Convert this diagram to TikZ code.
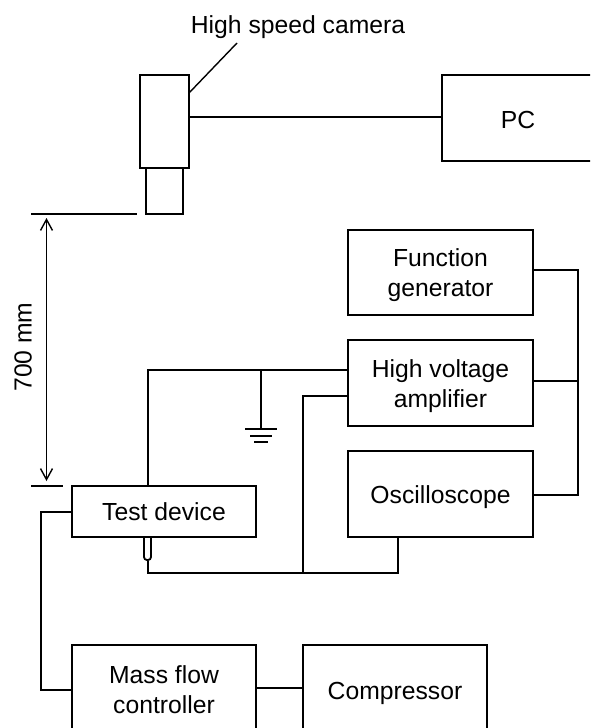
\documentclass[tikz,border=0pt]{standalone}
\usepackage{fontspec}
\setmainfont{Liberation Sans}
\usetikzlibrary{positioning,arrows.meta}
\newcommand{\pushed}[1]{\rule{0pt}{#1}}
\tikzset{unit/.style={rectangle,draw,fill=white,line width=2pt,align=center,inner sep=0pt,outer sep=0pt,
		minimum width=185pt,minimum height=86pt,font=\fontsize{24.7}{30}\selectfont},
	 wire/.style={line width=2pt},
	 thin wire/.style={line width=1.4pt},
	 probe/.style={rectangle,draw,rounded corners=3pt,line width=1.8pt,minimum width=7pt,minimum height=28pt,inner sep=0pt},
	 node distance = 25pt
	 }

\begin{document}
\begin{tikzpicture}[x=1pt,y=1pt]
	\path[use as bounding box,clip] (0,0) rectangle (590,-728);
	% camera and pc
	\node[unit,minimum width=49pt,minimum height=93pt] (cam) at (164.5,-121.5) {};
	\node[unit,minimum width=37pt,minimum height=46pt] (lens) [below=0pt of cam] {};
	\node[unit,minimum width=152pt] (pc) at (518,-118) {\pushed{22pt}PC};
	\node[font=\fontsize{24.7}{30}\selectfont] (camlabel) at (298,-27) {High speed camera};
	\coordinate (lead) at (237,-43);
	\draw[wire] (cam.east) ++(0,4.5) coordinate (camout) -- (camout -| pc.west);
	\draw[thin wire] (lead) -- (cam.east |- 0,-93);
	% signal units
	\node[unit,minimum height=85pt] (fg) at (440.5,-272) {\pushed{25pt}Function\\generator};
	\node[unit] (hv) [below=of fg] {\pushed{25pt}High voltage\\amplifier};
	\node[unit] (osc) [below=of hv] {\pushed{26pt}Oscilloscope};
	\coordinate (rbus) at (578,-270);
	\draw[wire] (fg.east |- rbus) -- (rbus) |- (osc.east |- 0,-495);
	\draw[wire] (hv.east |- 0,-381) -- (rbus |- 0,-381);
	% test device and probe
	\node[probe] (pr) at (147.5,-546) {};
	\node[unit,minimum width=184pt,minimum height=51pt] (td) at (164,-511.5) {Test device};
	\coordinate (bus) at (147.5,-573);
	\draw[wire] (pr.south) -- (bus) -| (osc.south -| 398,0);
	\draw[wire] (td.north -| bus) |- (hv.west |- 0,-370);
	\draw[wire] (hv.west |- 0,-396) -| (303,-573);
	% ground
	\coordinate (gnd) at (261,-429);
	\draw[wire] (gnd |- 0,-370) -- (gnd);
	\draw[wire] (245,-429) -- (277,-429);
	\draw[wire] (250,-436) -- (272,-436);
	\draw[wire] (254,-441.5) -- (268,-441.5);
	% gas supply
	\node[unit,minimum width=184pt,minimum height=90pt] (mfc) at (164,-690) {Mass flow\\controller};
	\node[unit,minimum width=184pt,minimum height=92pt] (comp) at (395,-691) {\pushed{23pt}Compressor};
	\draw[wire] (mfc.east |- 0,-688) -- (comp.west |- 0,-688);
	\draw[wire] (td.west) -| (41,-690) -- (mfc.west);
	% distance
	\coordinate (dtop) at (46.5,-214);
	\coordinate (dbot) at (46.5,-486);
	\draw[thin wire] (31,-214) -- (137,-214);
	\draw[thin wire] (31,-486) -- (63,-486);
	\draw[thin wire,{Straight Barb[length=11pt,width=12pt]}-{Straight Barb[length=11pt,width=12pt]}] ([yshift=-4pt]dtop) -- ([yshift=5pt]dbot);
	\node[rotate=90,font=\fontsize{24.7}{30}\selectfont] (dist) at (23,-347) {700 mm};
\end{tikzpicture}
\end{document}
